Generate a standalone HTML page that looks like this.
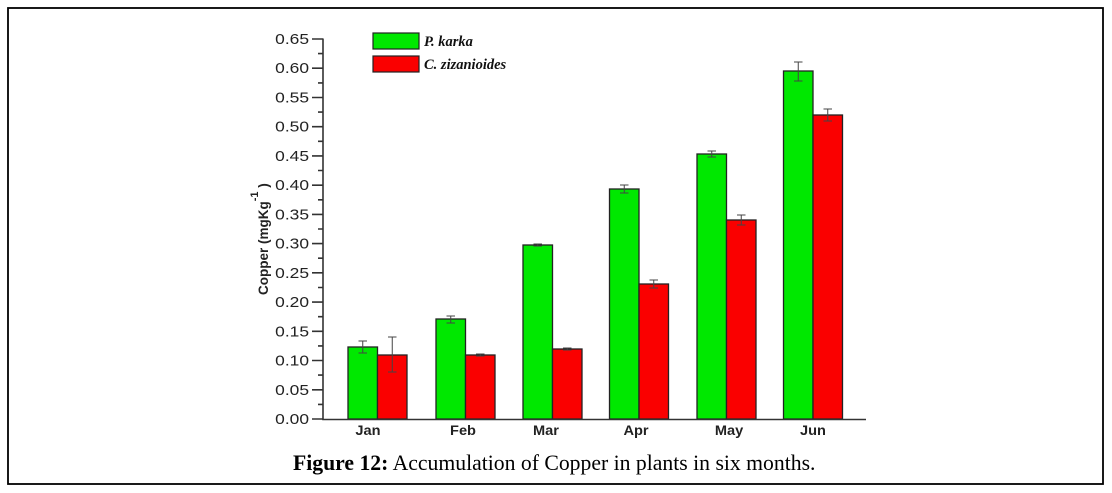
<!DOCTYPE html>
<html>
<head>
<meta charset="utf-8">
<style>
html,body{margin:0;padding:0;background:#fff;}
svg{display:block;}
</style>
</head>
<body>
<svg width="1112" height="493" viewBox="0 0 1112 493" xmlns="http://www.w3.org/2000/svg">
  <rect x="0" y="0" width="1112" height="493" fill="#fff"/>
  <rect x="8" y="8" width="1095" height="476" fill="none" stroke="#000" stroke-width="1.8"/>

  <!-- bars -->
  <g stroke="#222" stroke-width="1.3">
    <rect x="348" y="347" width="29.5" height="72" fill="#00e800"/>
    <rect x="377.5" y="355" width="29.5" height="64" fill="#fa0000"/>
    <rect x="436" y="319" width="29.5" height="100" fill="#00e800"/>
    <rect x="465.5" y="355" width="29.5" height="64" fill="#fa0000"/>
    <rect x="523" y="245" width="29.5" height="174" fill="#00e800"/>
    <rect x="552.5" y="349" width="29.5" height="70" fill="#fa0000"/>
    <rect x="609.5" y="189" width="29.5" height="230" fill="#00e800"/>
    <rect x="639" y="284" width="29.5" height="135" fill="#fa0000"/>
    <rect x="697" y="154" width="29.5" height="265" fill="#00e800"/>
    <rect x="726.5" y="220" width="29.5" height="199" fill="#fa0000"/>
    <rect x="783.5" y="71" width="29.5" height="348" fill="#00e800"/>
    <rect x="813" y="115" width="29.5" height="304" fill="#fa0000"/>
  </g>

  <!-- error bars -->
  <g stroke="#444" stroke-width="1" fill="none">
    <path d="M362.75 341V353M358.5 341H367M358.5 353H367"/>
    <path d="M392.25 337V372M388 337H396.5M388 372H396.5"/>
    <path d="M450.75 316V323M446.5 316H455M446.5 323H455"/>
    <path d="M480.25 354V356M476 354H484.5M476 356H484.5"/>
    <path d="M537.75 244V246M533.5 244H542M533.5 246H542"/>
    <path d="M567.25 348V350M563 348H571.5M563 350H571.5"/>
    <path d="M624.25 185V193M620 185H628.5M620 193H628.5"/>
    <path d="M653.75 280V288M649.5 280H658M649.5 288H658"/>
    <path d="M711.75 151V157M707.5 151H716M707.5 157H716"/>
    <path d="M741.25 215V225M737 215H745.5M737 225H745.5"/>
    <path d="M798.25 62V81M794 62H802.5M794 81H802.5"/>
    <path d="M827.75 109V121M823.5 109H832M823.5 121H832"/>
  </g>

  <!-- axes -->
  <g stroke="#333" stroke-width="1.6" fill="none">
    <path d="M323 38.5V419.5H866"/>
    <!-- major ticks -->
    <path d="M312 39H323M312 68.2H323M312 97.5H323M312 126.7H323M312 155.9H323M312 185.2H323M312 214.4H323M312 243.6H323M312 272.8H323M312 302.1H323M312 331.3H323M312 360.5H323M312 389.8H323M312 419H323"/>
    <!-- minor ticks -->
    <path d="M318 53.6H323M318 82.9H323M318 112.1H323M318 141.3H323M318 170.5H323M318 199.8H323M318 229H323M318 258.2H323M318 287.5H323M318 316.7H323M318 345.9H323M318 375.1H323M318 404.4H323"/>
  </g>

  <!-- y tick labels -->
  <g font-family="Liberation Sans, Arial, sans-serif" font-size="14.5" fill="#222" text-anchor="end">
    <text transform="translate(309,44) scale(1.2,1)">0.65</text>
    <text transform="translate(309,73.2) scale(1.2,1)">0.60</text>
    <text transform="translate(309,102.5) scale(1.2,1)">0.55</text>
    <text transform="translate(309,131.7) scale(1.2,1)">0.50</text>
    <text transform="translate(309,160.9) scale(1.2,1)">0.45</text>
    <text transform="translate(309,190.2) scale(1.2,1)">0.40</text>
    <text transform="translate(309,219.4) scale(1.2,1)">0.35</text>
    <text transform="translate(309,248.6) scale(1.2,1)">0.30</text>
    <text transform="translate(309,277.8) scale(1.2,1)">0.25</text>
    <text transform="translate(309,307.1) scale(1.2,1)">0.20</text>
    <text transform="translate(309,336.3) scale(1.2,1)">0.15</text>
    <text transform="translate(309,365.5) scale(1.2,1)">0.10</text>
    <text transform="translate(309,394.8) scale(1.2,1)">0.05</text>
    <text transform="translate(309,424) scale(1.2,1)">0.00</text>
  </g>

  <!-- x labels -->
  <g font-family="Liberation Sans, Arial, sans-serif" font-size="13.5" font-weight="bold" fill="#222" text-anchor="middle">
    <text transform="translate(368,435) scale(1.08,1)">Jan</text>
    <text transform="translate(463,435) scale(1.08,1)">Feb</text>
    <text transform="translate(546,435) scale(1.08,1)">Mar</text>
    <text transform="translate(636,435) scale(1.08,1)">Apr</text>
    <text transform="translate(729,435) scale(1.08,1)">May</text>
    <text transform="translate(813,435) scale(1.08,1)">Jun</text>
  </g>

  <!-- y axis label -->
  <text transform="translate(268,295) rotate(-90)" font-family="Liberation Sans, Arial, sans-serif" font-size="13.5" font-weight="bold" fill="#222">Copper (mgKg<tspan dy="-10" font-size="11">-1</tspan><tspan dy="10"> )</tspan></text>

  <!-- legend -->
  <rect x="373" y="33" width="46" height="16" fill="#00e800" stroke="#222" stroke-width="1.2"/>
  <rect x="373" y="56" width="46" height="16" fill="#fa0000" stroke="#222" stroke-width="1.2"/>
  <g font-family="Liberation Serif, 'Times New Roman', serif" font-size="14.5" font-weight="bold" font-style="italic" fill="#111">
    <text x="424" y="46">P. karka</text>
    <text x="424" y="69">C. zizanioides</text>
  </g>

  <!-- caption -->
  <text x="293" y="470" font-family="Liberation Serif, 'Times New Roman', serif" font-size="21.7" fill="#000"><tspan font-weight="bold">Figure 12:</tspan> Accumulation of Copper in plants in six months.</text>
</svg>
</body>
</html>
